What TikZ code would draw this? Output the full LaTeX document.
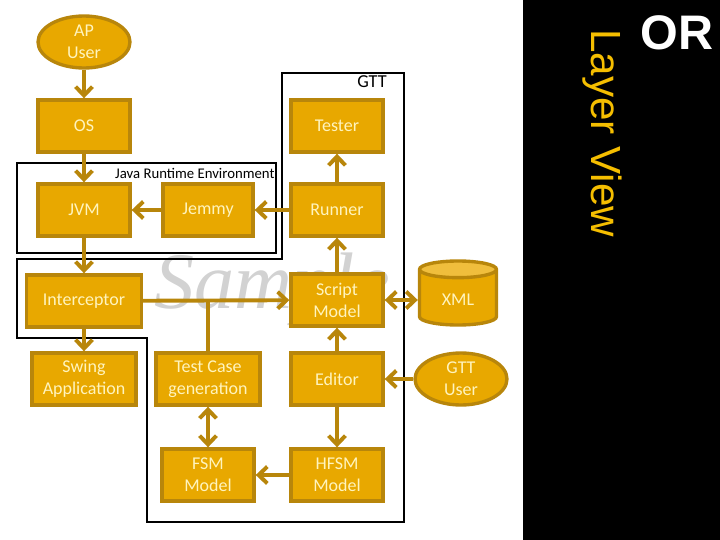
\documentclass[tikz,border=0pt]{standalone}
\usepackage{fontspec}
\setmainfont{Carlito}
\newfontfamily\layerfont{Liberation Sans}
\newfontfamily\markfont{Liberation Serif}
\usepackage{tikz}
\usetikzlibrary{positioning,arrows.meta,shapes.geometric}
\definecolor{goldfill}{RGB}{232, 168, 0}
\definecolor{golddark}{RGB}{184, 134, 11}
\definecolor{goldtop}{RGB}{240, 190, 60}
\definecolor{creamtext}{RGB}{255, 244, 190}
\definecolor{layergold}{RGB}{245, 190, 0}

\begin{document}
\begin{tikzpicture}[
    on grid,
    font=\fontsize{12.8}{15.6}\selectfont,
    comp/.style={draw=golddark, line width=2.4pt, fill=goldfill, text=creamtext, align=center,
        minimum width=2.3cm, minimum height=1.3cm, inner sep=1pt},
    actor/.style={ellipse, draw=golddark, line width=2.4pt, fill=goldfill, text=creamtext, align=center,
        minimum width=2.3cm, minimum height=1.3cm, inner sep=0pt},
    store/.style={cylinder, shape border rotate=90, aspect=0.4, draw=golddark, line width=2.4pt,
        cylinder uses custom fill, cylinder body fill=goldfill, cylinder end fill=goldtop,
        text=creamtext, minimum width=1.925cm, minimum height=1.6cm},
    arrow/.style={-{Straight Barb[length=2.2mm, width=4.2mm]}, line width=2.8pt, draw=golddark},
    twoway/.style={{Straight Barb[length=2.2mm, width=4.2mm]}-{Straight Barb[length=2.2mm, width=4.2mm]},
        line width=2.8pt, draw=golddark},
    link/.style={line width=2.8pt, draw=golddark},
    frame/.style={draw=black, line width=2pt}
]
\useasboundingbox (0,0) rectangle (18,-13.5);
\fill[black] (13.075,0) rectangle (18,-13.5);

% watermark behind everything
\node[anchor=base west, text=gray!35, font=\markfont\itshape\fontsize{57}{60}\selectfont, inner sep=0pt]
    (watermark) at (3.85,-7.7) {Sample};

% components
\node[actor] (apuser) at (2.1,-1.05) {AP\\User};
\node[comp, below=2.1cm of apuser] (os) {OS};
\node[comp, below=2.1cm of os] (jvm) {JVM};
\node[comp, right=3.1cm of jvm, minimum width=2.25cm] (jemmy) {Jemmy};
\node[comp, right=3.225cm of jemmy] (runner) {Runner};
\node[comp, above=2.1cm of runner] (tester) {Tester};
\node[comp, below=2.275cm of jvm, minimum width=2.875cm] (interceptor) {Interceptor};
\node[comp, below=1.95cm of interceptor, minimum width=2.6cm] (swing) {Swing\\Application};
\node[comp, below=2.25cm of runner] (script) {Script\\Model};
\node[comp, below=1.975cm of script] (editor) {Editor};
\node[comp, below=2.4cm of editor] (hfsm) {HFSM\\Model};
\node[comp, left=3.225cm of editor, minimum width=2.6cm] (testcase) {Test Case\\generation};
\node[comp, below=2.4cm of testcase] (fsm) {FSM\\Model};
\node[store, right=3.025cm of script] (xml) {XML};
\node[actor, right=3.1cm of editor] (gttuser) {GTT\\User};

% environment outlines
\draw[frame, line width=1.6pt] (0.425,-4.075) rectangle (6.9,-6.325);
\node[anchor=east, font=\fontsize{10.5}{12}\selectfont, inner sep=0pt] (jrelabel) at (6.87,-4.33) {Java Runtime Environment};
\draw[frame] (7.05,-1.825) -- (10.1,-1.825) -- (10.1,-13.05) -- (3.675,-13.05) -- (3.675,-8.45)
    -- (0.425,-8.45) -- (0.425,-6.475) -- (7.05,-6.475) -- cycle;
\node[font=\fontsize{13}{14}\selectfont, inner sep=0pt] (gttlabel) at (9.3,-2.03) {GTT};

% connectors
\draw[arrow] (apuser) -- (os);
\draw[arrow] (os) -- (jvm);
\draw[arrow] (jemmy) -- (jvm);
\draw[arrow] (runner) -- (jemmy);
\draw[arrow] (runner) -- (tester);
\draw[arrow] (jvm) -- (interceptor);
\draw[arrow] (interceptor) -- (swing);
\draw[arrow] (interceptor) -- (script);
\draw[link] (testcase) -- (testcase |- interceptor);
\draw[arrow] (script) -- (runner);
\draw[twoway] (script) -- (xml);
\draw[arrow] (editor) -- (script);
\draw[arrow] (gttuser) -- (editor);
\draw[arrow] (editor) -- (hfsm);
\draw[arrow] (hfsm) -- (fsm);
\draw[twoway] (testcase) -- (fsm);

% side panel
\node[rotate=-90, text=layergold, font=\layerfont\fontsize{30}{32}\selectfont, inner sep=0pt] (layerview) at (15.05,-3.33) {Layer View};
\node[text=white, font=\layerfont\bfseries\fontsize{34.5}{36}\selectfont, inner sep=0pt] (ortext) at (16.92,-0.83) {OR};
\end{tikzpicture}
\end{document}
